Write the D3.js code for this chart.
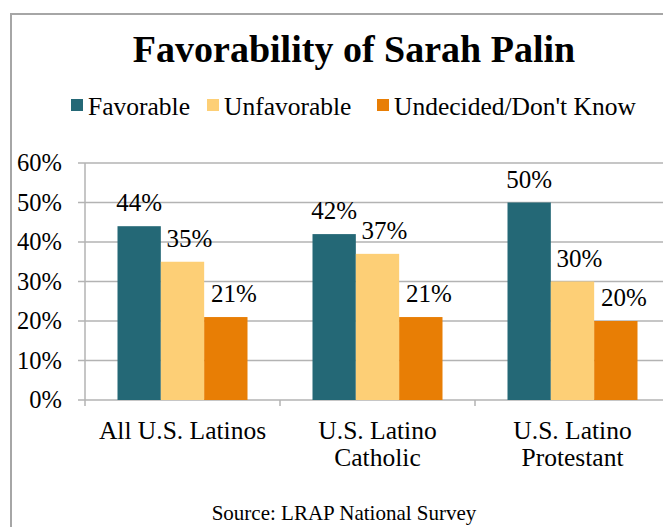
<!DOCTYPE html>
<html>
<head>
<meta charset="utf-8">
<script src="https://cdn.jsdelivr.net/npm/d3@7"></script>
<style>
  body { margin: 0; background: white; }
  svg text { font-family: "Liberation Serif", "Times New Roman", serif; }
</style>
</head>
<body>
<div id="chart"></div>
<script>
// data
const categories = [["All U.S. Latinos"], ["U.S. Latino", "Catholic"], ["U.S. Latino", "Protestant"]];
const seriesNames = ["Favorable", "Unfavorable", "Undecided/Don't Know"];
const favorable = [44, 42, 50];
const unfavorable = [35, 37, 30];
const undecided = [21, 21, 20];
const yTicks = [0, 10, 20, 30, 40, 50, 60];

const colors = ["#246876", "#fdcf76", "#e87e05"];

const width = 663, height = 527;
const margin = {top: 163, left: 85, right: 670, bottom: 400};

const svg = d3.select('#chart')
              .append('svg')
              .attr('width', width)
              .attr('height', height)
              .style('background', 'white');

// outer frame
svg.append("rect")
   .attr("x", 11)
   .attr("y", 14)
   .attr("width", 700)
   .attr("height", 600)
   .attr("fill", "none")
   .attr("stroke", "#a6a6a6")
   .attr("stroke-width", 2);

svg.append("text")
   .attr("x", 354)
   .attr("y", 62)
   .attr("text-anchor", "middle")
   .style("font-size", "38px")
   .style("font-weight", "bold")
   .text("Favorability of Sarah Palin");

// legend
const legendX = [71, 207, 377];
seriesNames.forEach((name, i) => {
    svg.append("rect")
       .attr("x", legendX[i])
       .attr("y", 99)
       .attr("width", 12)
       .attr("height", 12)
       .attr("fill", colors[i]);
    svg.append("text")
       .attr("x", legendX[i] + 17)
       .attr("y", 115)
       .style("font-size", "25.5px")
       .text(name);
});

const data = categories.map((c, i) => ({
    cat: c.join(" "),
    lines: c,
    values: [favorable[i], unfavorable[i], undecided[i]]
}));

const x0 = d3.scaleBand()
             .domain(data.map(d => d.cat))
             .range([margin.left, margin.right]);

const bw = x0.bandwidth();
const x1 = d3.scaleBand()
             .domain(d3.range(seriesNames.length))
             .range([bw / 6, bw * 5 / 6]);

const y = d3.scaleLinear()
            .domain([0, 60])
            .range([margin.bottom, margin.top]);

// gridlines
svg.append("g")
   .selectAll("line")
   .data(yTicks)
   .enter()
   .append("line")
   .attr("x1", 78)
   .attr("x2", margin.right)
   .attr("y1", d => y(d))
   .attr("y2", d => y(d))
   .attr("stroke", "#b3b3b3")
   .attr("stroke-width", 1.5);

// y axis line
svg.append("line")
   .attr("x1", margin.left).attr("x2", margin.left)
   .attr("y1", y(60)).attr("y2", y(0) + 6)
   .attr("stroke", "#b3b3b3")
   .attr("stroke-width", 1.5);

// category ticks
svg.append("g")
   .selectAll("line")
   .data(data.slice(1))
   .enter()
   .append("line")
   .attr("x1", d => x0(d.cat))
   .attr("x2", d => x0(d.cat))
   .attr("y1", y(0))
   .attr("y2", y(0) + 6)
   .attr("stroke", "#b3b3b3")
   .attr("stroke-width", 1.5);

// y tick labels
svg.append("g")
   .selectAll("text")
   .data(yTicks)
   .enter()
   .append("text")
   .attr("x", 62)
   .attr("y", d => y(d) + 8)
   .attr("text-anchor", "end")
   .style("font-size", "24.5px")
   .text(d => d + "%");

const labelShift = [0, 7, 8];

const groups = svg.selectAll(".grp")
                  .data(data)
                  .enter()
                  .append("g")
                  .attr("transform", d => `translate(${x0(d.cat)},0)`);

groups.selectAll("rect")
      .data(d => d.values)
      .enter()
      .append("rect")
      .attr("x", (v, i) => x1(i))
      .attr("y", v => y(v))
      .attr("width", x1.bandwidth())
      .attr("height", v => y(0) - y(v))
      .attr("fill", (v, i) => colors[i]);

groups.selectAll(".lbl")
      .data(d => d.values)
      .enter()
      .append("text")
      .attr("x", (v, i) => x1(i) + x1.bandwidth() / 2 + labelShift[i])
      .attr("y", v => y(v) - 15)
      .attr("text-anchor", "middle")
      .style("font-size", "25px")
      .text(v => v + "%");

// category labels
groups.each(function(d) {
    d3.select(this).selectAll(".cat")
      .data(d.lines)
      .enter()
      .append("text")
      .attr("x", bw / 2)
      .attr("y", (l, j) => 439 + j * 27)
      .attr("text-anchor", "middle")
      .style("font-size", "25.5px")
      .text(l => l);
});

svg.append("text")
   .attr("x", 344)
   .attr("y", 520)
   .attr("text-anchor", "middle")
   .style("font-size", "21px")
   .text("Source: LRAP National Survey");
</script>
</body>
</html>
